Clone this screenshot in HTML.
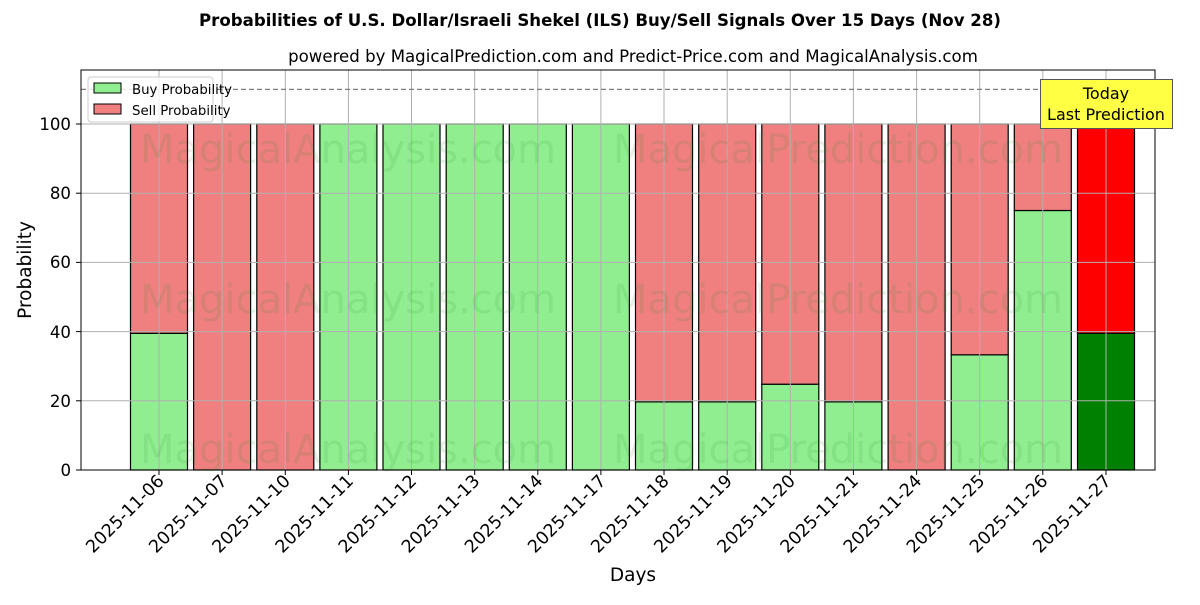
<!DOCTYPE html>
<html><head><meta charset="utf-8"><style>
body{margin:0;background:#fff}
svg{font-family:"DejaVu Sans","Liberation Sans",sans-serif}
</style></head><body>
<svg width="1200" height="600" viewBox="0 0 1200 600" xmlns="http://www.w3.org/2000/svg">
<rect width="1200" height="600" fill="#fff"/>
<text x="600" y="26" text-anchor="middle" font-size="16.6" font-weight="bold">Probabilities of U.S. Dollar/Israeli Shekel (ILS) Buy/Sell Signals Over 15 Days (Nov 28)</text>
<text x="633" y="62" text-anchor="middle" font-size="16.6">powered by MagicalPrediction.com and Predict-Price.com and MagicalAnalysis.com</text>
<g stroke="#000" stroke-width="1.2">
<rect x="130.5" y="333.3" width="57" height="136.7" fill="#90ee90"/>
<rect x="319.9" y="124" width="57" height="346" fill="#90ee90"/>
<rect x="383" y="124" width="57" height="346" fill="#90ee90"/>
<rect x="446.2" y="124" width="57" height="346" fill="#90ee90"/>
<rect x="509.3" y="124" width="57" height="346" fill="#90ee90"/>
<rect x="572.4" y="124" width="57" height="346" fill="#90ee90"/>
<rect x="635.5" y="401.8" width="57" height="68.2" fill="#90ee90"/>
<rect x="698.7" y="401.8" width="57" height="68.2" fill="#90ee90"/>
<rect x="761.8" y="384.2" width="57" height="85.8" fill="#90ee90"/>
<rect x="824.9" y="401.8" width="57" height="68.2" fill="#90ee90"/>
<rect x="951.2" y="354.8" width="57" height="115.2" fill="#90ee90"/>
<rect x="1014.3" y="210.5" width="57" height="259.5" fill="#90ee90"/>
<rect x="1077.5" y="333.3" width="57" height="136.7" fill="#008000"/>
<rect x="130.5" y="124" width="57" height="209.3" fill="#f08080"/>
<rect x="193.6" y="124" width="57" height="346" fill="#f08080"/>
<rect x="256.8" y="124" width="57" height="346" fill="#f08080"/>
<rect x="635.5" y="124" width="57" height="277.8" fill="#f08080"/>
<rect x="698.7" y="124" width="57" height="277.8" fill="#f08080"/>
<rect x="761.8" y="124" width="57" height="260.2" fill="#f08080"/>
<rect x="824.9" y="124" width="57" height="277.8" fill="#f08080"/>
<rect x="888.1" y="124" width="57" height="346" fill="#f08080"/>
<rect x="951.2" y="124" width="57" height="230.8" fill="#f08080"/>
<rect x="1014.3" y="124" width="57" height="86.5" fill="#f08080"/>
<rect x="1077.5" y="124" width="57" height="209.3" fill="#ff0000"/>
</g>
<g stroke="#b0b0b0" stroke-width="1">
<line x1="81" x2="1155" y1="470" y2="470"/><line x1="81" x2="1155" y1="400.8" y2="400.8"/><line x1="81" x2="1155" y1="331.6" y2="331.6"/><line x1="81" x2="1155" y1="262.4" y2="262.4"/><line x1="81" x2="1155" y1="193.2" y2="193.2"/><line x1="81" x2="1155" y1="124" y2="124"/>
<line x1="159" x2="159" y1="70" y2="470"/><line x1="222.1" x2="222.1" y1="70" y2="470"/><line x1="285.3" x2="285.3" y1="70" y2="470"/><line x1="348.4" x2="348.4" y1="70" y2="470"/><line x1="411.5" x2="411.5" y1="70" y2="470"/><line x1="474.7" x2="474.7" y1="70" y2="470"/><line x1="537.8" x2="537.8" y1="70" y2="470"/><line x1="600.9" x2="600.9" y1="70" y2="470"/><line x1="664" x2="664" y1="70" y2="470"/><line x1="727.2" x2="727.2" y1="70" y2="470"/><line x1="790.3" x2="790.3" y1="70" y2="470"/><line x1="853.4" x2="853.4" y1="70" y2="470"/><line x1="916.6" x2="916.6" y1="70" y2="470"/><line x1="979.7" x2="979.7" y1="70" y2="470"/><line x1="1042.8" x2="1042.8" y1="70" y2="470"/><line x1="1106" x2="1106" y1="70" y2="470"/>
</g>
<g font-size="40" fill="#2a8a2a" fill-opacity="0.12" text-anchor="middle">
<text x="348" y="163">MagicalAnalysis.com</text><text x="838" y="163">MagicalPrediction.com</text>
<text x="348" y="313">MagicalAnalysis.com</text><text x="838" y="313">MagicalPrediction.com</text>
<text x="348" y="463">MagicalAnalysis.com</text><text x="838" y="463">MagicalPrediction.com</text>
</g>
<line x1="81" x2="1155" y1="89.4" y2="89.4" stroke="#808080" stroke-width="1.2" stroke-dasharray="5,3"/>
<rect x="81" y="70" width="1074" height="400" fill="none" stroke="#000" stroke-width="1"/>
<g font-size="13.3">
<rect x="88" y="77" width="125" height="45" rx="3" fill="#fff" fill-opacity="0.8" stroke="#ccc"/>
<rect x="94" y="83" width="27" height="10" fill="#90ee90" stroke="#000"/>
<text x="132" y="94">Buy Probability</text>
<rect x="94" y="104" width="27" height="10" fill="#f08080" stroke="#000"/>
<text x="132" y="115">Sell Probability</text>
</g>
<rect x="1040.5" y="79.5" width="132" height="49" fill="#ffff44" stroke="#555"/>
<text x="1106" y="99" text-anchor="middle" font-size="16">Today</text>
<text x="1106" y="120" text-anchor="middle" font-size="16">Last Prediction</text>
<g font-size="16.6" text-anchor="end">
<text x="71" y="476">0</text><text x="71" y="407">20</text><text x="71" y="338">40</text><text x="71" y="268">60</text><text x="71" y="199">80</text><text x="71" y="130">100</text>
</g>
<g stroke="#000"><line x1="76" x2="81" y1="470" y2="470"/><line x1="76" x2="81" y1="400.8" y2="400.8"/><line x1="76" x2="81" y1="331.6" y2="331.6"/><line x1="76" x2="81" y1="262.4" y2="262.4"/><line x1="76" x2="81" y1="193.2" y2="193.2"/><line x1="76" x2="81" y1="124" y2="124"/>
<line x1="159" x2="159" y1="470" y2="475"/><line x1="222.1" x2="222.1" y1="470" y2="475"/><line x1="285.3" x2="285.3" y1="470" y2="475"/><line x1="348.4" x2="348.4" y1="470" y2="475"/><line x1="411.5" x2="411.5" y1="470" y2="475"/><line x1="474.7" x2="474.7" y1="470" y2="475"/><line x1="537.8" x2="537.8" y1="470" y2="475"/><line x1="600.9" x2="600.9" y1="470" y2="475"/><line x1="664" x2="664" y1="470" y2="475"/><line x1="727.2" x2="727.2" y1="470" y2="475"/><line x1="790.3" x2="790.3" y1="470" y2="475"/><line x1="853.4" x2="853.4" y1="470" y2="475"/><line x1="916.6" x2="916.6" y1="470" y2="475"/><line x1="979.7" x2="979.7" y1="470" y2="475"/><line x1="1042.8" x2="1042.8" y1="470" y2="475"/><line x1="1106" x2="1106" y1="470" y2="475"/></g>
<text transform="translate(31,270) rotate(-90)" text-anchor="middle" font-size="18.5">Probability</text>
<text x="633" y="581" text-anchor="middle" font-size="18.5">Days</text>
<g font-size="17.5" text-anchor="end">
<text transform="translate(165,482) rotate(-45)">2025-11-06</text>
<text transform="translate(228.1,482) rotate(-45)">2025-11-07</text>
<text transform="translate(291.3,482) rotate(-45)">2025-11-10</text>
<text transform="translate(354.4,482) rotate(-45)">2025-11-11</text>
<text transform="translate(417.5,482) rotate(-45)">2025-11-12</text>
<text transform="translate(480.7,482) rotate(-45)">2025-11-13</text>
<text transform="translate(543.8,482) rotate(-45)">2025-11-14</text>
<text transform="translate(606.9,482) rotate(-45)">2025-11-17</text>
<text transform="translate(670,482) rotate(-45)">2025-11-18</text>
<text transform="translate(733.2,482) rotate(-45)">2025-11-19</text>
<text transform="translate(796.3,482) rotate(-45)">2025-11-20</text>
<text transform="translate(859.4,482) rotate(-45)">2025-11-21</text>
<text transform="translate(922.6,482) rotate(-45)">2025-11-24</text>
<text transform="translate(985.7,482) rotate(-45)">2025-11-25</text>
<text transform="translate(1048.8,482) rotate(-45)">2025-11-26</text>
<text transform="translate(1112,482) rotate(-45)">2025-11-27</text>
</g>
</svg>
</body></html>
